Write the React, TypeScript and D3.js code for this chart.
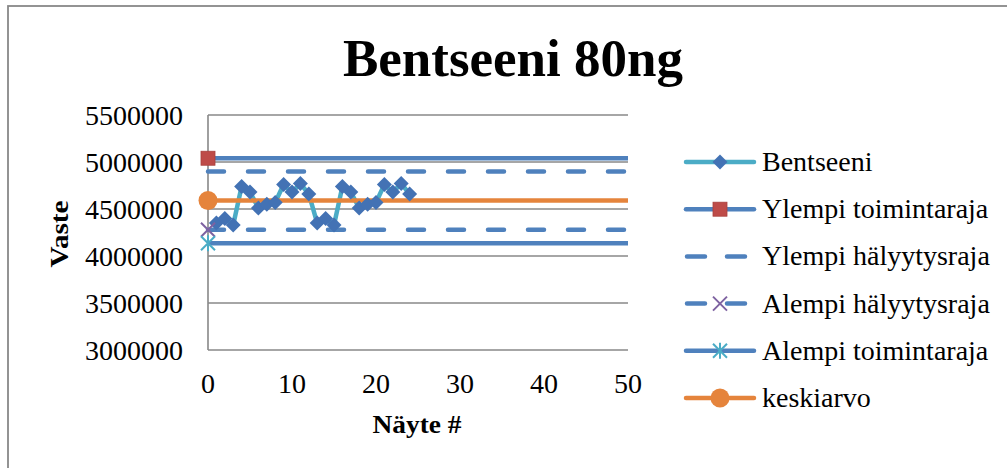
import React from "react";
import * as d3 from "d3";

const title = "Bentseeni 80ng";
const xTitle = "Näyte #";
const yTitle = "Vaste";

const sampleNo = [1, 2, 3, 4, 5, 6, 7, 8, 9, 10, 11, 12, 13, 14, 15, 16, 17, 18, 19, 20, 21, 22, 23, 24];
const bentseeni = [
  4350000, 4400000, 4330000, 4740000, 4680000, 4510000, 4550000, 4570000, 4760000, 4680000, 4770000, 4660000,
  4350000, 4400000, 4330000, 4740000, 4680000, 4510000, 4550000, 4570000, 4760000, 4680000, 4770000, 4660000,
];

const limitX = [0, 50];
const ylempiToimintaraja = [5040000, 5040000];
const ylempiHalyytysraja = [4900000, 4900000];
const keskiarvo = [4590000, 4590000];
const alempiHalyytysraja = [4280000, 4280000];
const alempiToimintaraja = [4135000, 4135000];

const yTicks = [3000000, 3500000, 4000000, 4500000, 5000000, 5500000];
const xTicks = [0, 10, 20, 30, 40, 50];

const legendNames = [
  "Bentseeni",
  "Ylempi toimintaraja",
  "Ylempi hälyytysraja",
  "Alempi hälyytysraja",
  "Alempi toimintaraja",
  "keskiarvo",
];

const C_LINE = "#4BACC6";
const C_DIAMOND = "#4372B4";
const C_LIMIT = "#4F81BD";
const C_RED = "#BE4B48";
const C_ORANGE = "#E5843C";
const C_PURPLE = "#7E62A1";
const C_TEAL = "#4BACC6";
const C_GRID = "#888888";
const SERIF = "'Liberation Serif', 'Times New Roman', serif";

type Marker = "diamond" | "square" | "none" | "x" | "star" | "circle";

function MarkerShape({ kind, x, y }: { kind: Marker; x: number; y: number }) {
  if (kind === "diamond") {
    const s = 7.5;
    return <path d={`M${x},${y - s}L${x + s},${y}L${x},${y + s}L${x - s},${y}Z`} fill={C_DIAMOND} />;
  }
  if (kind === "square") {
    return <rect x={x - 7} y={y - 7} width={14} height={14} fill={C_RED} stroke="#A9403D" strokeWidth={0.8} />;
  }
  if (kind === "circle") {
    return <circle cx={x} cy={y} r={9.5} fill={C_ORANGE} />;
  }
  if (kind === "x") {
    const s = 7;
    return (
      <path d={`M${x - s},${y - s}L${x + s},${y + s}M${x - s},${y + s}L${x + s},${y - s}`} stroke={C_PURPLE} strokeWidth={2} />
    );
  }
  if (kind === "star") {
    const s = 7;
    return (
      <path
        d={`M${x - s},${y - s}L${x + s},${y + s}M${x - s},${y + s}L${x + s},${y - s}M${x},${y - s - 1}L${x},${y + s + 1}`}
        stroke={C_TEAL}
        strokeWidth={2}
      />
    );
  }
  return null;
}

export default function App() {
  const W = 1007;
  const H = 468;
  const x = d3.scaleLinear().domain([0, 50]).range([208, 628]);
  const y = d3.scaleLinear().domain([3000000, 5500000]).range([350, 115]);

  const line = d3
    .line<[number, number]>()
    .x((d) => x(d[0]))
    .y((d) => y(d[1]));

  const benPts: [number, number][] = sampleNo.map((n, i) => [n, bentseeni[i]]);
  const lim = (vals: number[]): [number, number][] => limitX.map((n, i) => [n, vals[i]]);

  const limits: { vals: number[]; color: string; dash?: string; marker: Marker }[] = [
    { vals: ylempiToimintaraja, color: C_LIMIT, marker: "square" },
    { vals: ylempiHalyytysraja, color: C_LIMIT, dash: "16 24", marker: "none" },
    { vals: alempiHalyytysraja, color: C_LIMIT, dash: "16 24", marker: "x" },
    { vals: alempiToimintaraja, color: C_LIMIT, marker: "star" },
    { vals: keskiarvo, color: C_ORANGE, marker: "circle" },
  ];

  const legendItems: { name: string; color: string; dash?: string; marker: Marker }[] = [
    { name: legendNames[0], color: C_LINE, marker: "diamond" },
    { name: legendNames[1], color: C_LIMIT, marker: "square" },
    { name: legendNames[2], color: C_LIMIT, dash: "16 24", marker: "none" },
    { name: legendNames[3], color: C_LIMIT, dash: "16 24", marker: "x" },
    { name: legendNames[4], color: C_LIMIT, marker: "star" },
    { name: legendNames[5], color: C_ORANGE, marker: "circle" },
  ];

  return (
    <svg
      width={W}
      height={H}
      viewBox={`0 0 ${W} ${H}`}
      style={{ position: "absolute", left: 0, top: 0, background: "#fff" }}
    >
      <rect x={0} y={0} width={W} height={H} fill="#fff" />
      <rect x={8} y={6} width={W + 10} height={H + 10} fill="none" stroke={C_GRID} strokeWidth={1.8} />

      <text x={513} y={76} textAnchor="middle" fontFamily={SERIF} fontWeight="bold" fontSize={53} fill="#000">
        {title}
      </text>

      {/* grid */}
      {yTicks.map((t) => (
        <line key={t} x1={x(0)} x2={x(50)} y1={y(t)} y2={y(t)} stroke={C_GRID} strokeWidth={1.6} />
      ))}
      <line x1={x(0)} x2={x(0)} y1={y(5500000)} y2={y(3000000)} stroke={C_GRID} strokeWidth={1.6} />

      {/* y tick labels */}
      {yTicks.map((t) => (
        <text key={t} x={183} y={y(t) + 10} textAnchor="end" fontFamily={SERIF} fontSize={28} fill="#000">
          {d3.format("d")(t)}
        </text>
      ))}
      {/* x tick labels */}
      {xTicks.map((t) => (
        <text key={t} x={x(t)} y={393} textAnchor="middle" fontFamily={SERIF} fontSize={28} fill="#000">
          {t}
        </text>
      ))}

      <text
        transform={`translate(68,234) rotate(-90)`}
        textAnchor="middle"
        fontFamily={SERIF}
        fontWeight="bold"
        fontSize={26}
        textLength={67}
        lengthAdjust="spacingAndGlyphs"
        fill="#000"
      >
        {yTitle}
      </text>
      <text
        x={417}
        y={433}
        textAnchor="middle"
        fontFamily={SERIF}
        fontWeight="bold"
        fontSize={26}
        textLength={89}
        lengthAdjust="spacingAndGlyphs"
        fill="#000"
      >
        {xTitle}
      </text>

      {/* series lines */}
      <path d={line(benPts) ?? ""} fill="none" stroke={C_LINE} strokeWidth={4.5} strokeLinejoin="round" />
      {limits.map((l, i) => (
        <path
          key={i}
          d={line(lim(l.vals)) ?? ""}
          fill="none"
          stroke={l.color}
          strokeWidth={4.5}
          strokeDasharray={l.dash}
          strokeLinecap={l.dash ? "round" : "butt"}
        />
      ))}
      {benPts.map((p, i) => (
        <MarkerShape key={i} kind="diamond" x={x(p[0])} y={y(p[1])} />
      ))}
      {limits.map((l, i) => (
        <MarkerShape key={i} kind={l.marker} x={x(limitX[0])} y={y(l.vals[0])} />
      ))}

      {/* legend */}
      {legendItems.map((it, i) => {
        const cy = 162 + i * 47.2;
        return (
          <g key={it.name}>
            <line
              x1={it.dash ? 687 : 686}
              x2={it.dash ? 752 : 754}
              y1={cy}
              y2={cy}
              stroke={it.color}
              strokeWidth={4.5}
              strokeDasharray={it.dash ? "18 22" : undefined}
              strokeLinecap="round"
            />
            <MarkerShape kind={it.marker} x={720} y={cy} />
            <text x={762} y={cy + 9} fontFamily={SERIF} fontSize={28} fill="#000">
              {it.name}
            </text>
          </g>
        );
      })}
    </svg>
  );
}
